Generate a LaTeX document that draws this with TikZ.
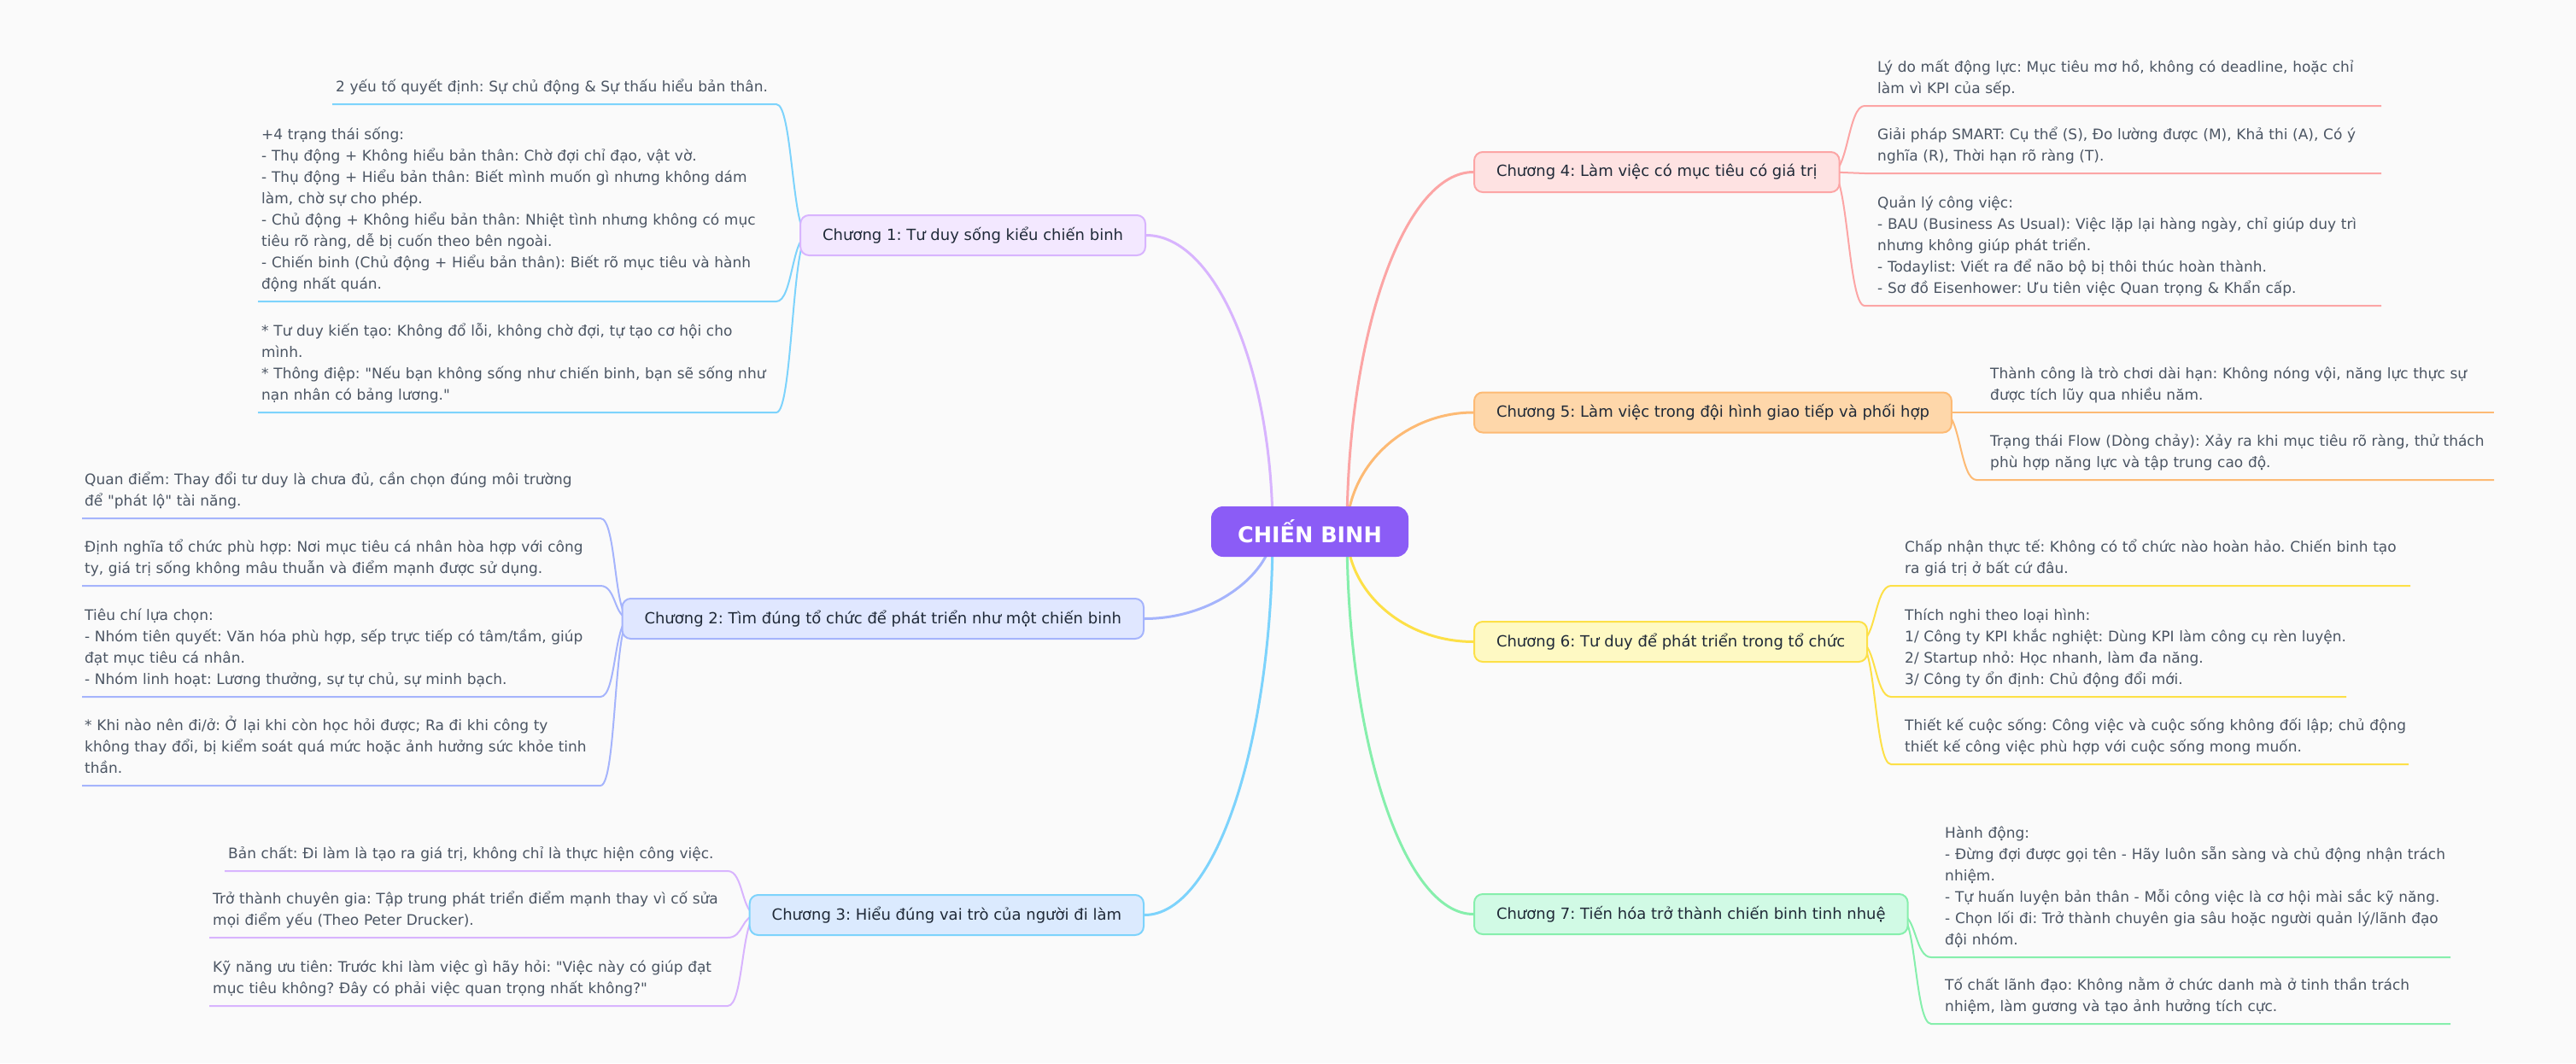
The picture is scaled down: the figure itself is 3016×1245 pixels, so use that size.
\documentclass[tikz,border=0pt]{standalone}
\usepackage{fontspec}
\newfontfamily\dejavu{DejaVu Sans}
\usetikzlibrary{backgrounds}
\frenchspacing
\definecolor{bgcol}{HTML}{FAFAFA}
\definecolor{hubcol}{HTML}{8B5CF6}
\definecolor{leaftext}{HTML}{4B5563}
\definecolor{chtext}{HTML}{1F2937}
\definecolor{purpleline}{HTML}{D8B4FE}
\definecolor{purplefill}{HTML}{F3E8FF}
\definecolor{indigoline}{HTML}{A5B4FC}
\definecolor{indigofill}{HTML}{E0E7FF}
\definecolor{skyline}{HTML}{7DD3FC}
\definecolor{skyfill}{HTML}{DBEAFE}
\definecolor{redline}{HTML}{FCA5A5}
\definecolor{redfill}{HTML}{FEE2E2}
\definecolor{orangeline}{HTML}{FDBA74}
\definecolor{orangefill}{HTML}{FED7AA}
\definecolor{yellowline}{HTML}{FDE047}
\definecolor{yellowfill}{HTML}{FEF9C3}
\definecolor{greenline}{HTML}{86EFAC}
\definecolor{greenfill}{HTML}{D1FAE5}

\begin{document}
\begin{tikzpicture}[x=1pt,y=-1pt,
  hub/.style={fill=hubcol, rounded corners=14pt, minimum width=231pt, minimum height=59pt, text=white, font=\dejavu\bfseries\fontsize{25.5}{30}\selectfont},
  chap/.style={rounded corners=10pt, line width=2pt, minimum height=47pt, inner xsep=26pt, text=chtext, font=\dejavu\fontsize{18}{22}\selectfont},
  leaf/.style={text width=640pt, align=left, inner sep=0pt, anchor=base west, text=leaftext, font=\dejavu\fontsize{17}{25}\selectfont},
  trunk/.style={line width=3pt},
  twig/.style={line width=2pt}]
  \useasboundingbox (0,0) rectangle (3016,1245);

  \node[hub] (hub) at (1533.5,622.5) {CHIẾN BINH};
  \coordinate (hubL) at (1490,622.5);
  \coordinate (hubR) at (1577,622.5);

  \node[chap, draw=purpleline, fill=purplefill, anchor=east] (ch1) at (1342,275.5) {Chương 1: Tư duy sống kiểu chiến binh};
  \node[chap, draw=indigoline, fill=indigofill, anchor=east] (ch2) at (1340,724.5) {Chương 2: Tìm đúng tổ chức để phát triển như một chiến binh};
  \node[chap, draw=skyline, fill=skyfill, anchor=east] (ch3) at (1340,1071.5) {Chương 3: Hiểu đúng vai trò của người đi làm};
  \node[chap, draw=redline, fill=redfill, anchor=west] (ch4) at (1725,201.5) {Chương 4: Làm việc có mục tiêu có giá trị};
  \node[chap, draw=orangeline, fill=orangefill, anchor=west] (ch5) at (1725,483) {Chương 5: Làm việc trong đội hình giao tiếp và phối hợp};
  \node[chap, draw=yellowline, fill=yellowfill, anchor=west] (ch6) at (1725,751.5) {Chương 6: Tư duy để phát triển trong tổ chức};
  \node[chap, draw=greenline, fill=greenfill, anchor=west] (ch7) at (1725,1070.5) {Chương 7: Tiến hóa trở thành chiến binh tinh nhuệ};

  \coordinate (c1) at ([xshift=10pt]ch1.west);
  \coordinate (c2) at ([xshift=10pt]ch2.west);
  \coordinate (c3) at ([xshift=10pt]ch3.west);
  \coordinate (c4) at ([xshift=-10pt]ch4.east);
  \coordinate (c5) at ([xshift=-10pt]ch5.east);
  \coordinate (c6) at ([xshift=-10pt]ch6.east);
  \coordinate (c7) at ([xshift=-10pt]ch7.east);

  \node[leaf] (l1a) at (393,107) {2 yếu tố quyết định: Sự chủ động \& Sự thấu hiểu bản thân.};
  \node[leaf] (l1b) at (306,163) {+4 trạng thái sống:\\
    - Thụ động + Không hiểu bản thân: Chờ đợi chỉ đạo, vật vờ.\\
    - Thụ động + Hiểu bản thân: Biết mình muốn gì nhưng không dám\\
    làm, chờ sự cho phép.\\
    - Chủ động + Không hiểu bản thân: Nhiệt tình nhưng không có mục\\
    tiêu rõ ràng, dễ bị cuốn theo bên ngoài.\\
    - Chiến binh (Chủ động + Hiểu bản thân): Biết rõ mục tiêu và hành\\
    động nhất quán.};
  \node[leaf] (l1c) at (306,393) {* Tư duy kiến tạo: Không đổ lỗi, không chờ đợi, tự tạo cơ hội cho\\
    mình.\\{}* Thông điệp: "Nếu bạn không sống như chiến binh, bạn sẽ sống như\\
    nạn nhân có bảng lương."};

  \node[leaf] (l2a) at (99,567) {Quan điểm: Thay đổi tư duy là chưa đủ, cần chọn đúng môi trường\\
    để "phát lộ" tài năng.};
  \node[leaf] (l2b) at (99,646) {Định nghĩa tổ chức phù hợp: Nơi mục tiêu cá nhân hòa hợp với công\\
    ty, giá trị sống không mâu thuẫn và điểm mạnh được sử dụng.};
  \node[leaf] (l2c) at (99,726) {Tiêu chí lựa chọn:\\
    - Nhóm tiên quyết: Văn hóa phù hợp, sếp trực tiếp có tâm/tầm, giúp\\
    đạt mục tiêu cá nhân.\\
    - Nhóm linh hoạt: Lương thưởng, sự tự chủ, sự minh bạch.};
  \node[leaf] (l2d) at (99,855) {* Khi nào nên đi/ở: Ở lại khi còn học hỏi được; Ra đi khi công ty\\
    không thay đổi, bị kiểm soát quá mức hoặc ảnh hưởng sức khỏe tinh\\
    thần.};

  \node[leaf] (l3a) at (267,1005) {Bản chất: Đi làm là tạo ra giá trị, không chỉ là thực hiện công việc.};
  \node[leaf] (l3b) at (249,1058) {Trở thành chuyên gia: Tập trung phát triển điểm mạnh thay vì cố sửa\\
    mọi điểm yếu (Theo Peter Drucker).};
  \node[leaf] (l3c) at (249,1138) {Kỹ năng ưu tiên: Trước khi làm việc gì hãy hỏi: "Việc này có giúp đạt\\
    mục tiêu không? Đây có phải việc quan trọng nhất không?"};

  \node[leaf] (l4a) at (2198,84) {Lý do mất động lực: Mục tiêu mơ hồ, không có deadline, hoặc chỉ\\
    làm vì KPI của sếp.};
  \node[leaf] (l4b) at (2198,163) {Giải pháp SMART: Cụ thể (S), Đo lường được (M), Khả thi (A), Có ý\\
    nghĩa (R), Thời hạn rõ ràng (T).};
  \node[leaf] (l4c) at (2198,243) {Quản lý công việc:\\
    - BAU (Business As Usual): Việc lặp lại hàng ngày, chỉ giúp duy trì\\
    nhưng không giúp phát triển.\\
    - Todaylist: Viết ra để não bộ bị thôi thúc hoàn thành.\\
    - Sơ đồ Eisenhower: Ưu tiên việc Quan trọng \& Khẩn cấp.};

  \node[leaf] (l5a) at (2330,443) {Thành công là trò chơi dài hạn: Không nóng vội, năng lực thực sự\\
    được tích lũy qua nhiều năm.};
  \node[leaf] (l5b) at (2330,522) {Trạng thái Flow (Dòng chảy): Xảy ra khi mục tiêu rõ ràng, thử thách\\
    phù hợp năng lực và tập trung cao độ.};

  \node[leaf] (l6a) at (2230,646) {Chấp nhận thực tế: Không có tổ chức nào hoàn hảo. Chiến binh tạo\\
    ra giá trị ở bất cứ đâu.};
  \node[leaf] (l6b) at (2230,726) {Thích nghi theo loại hình:\\
    1/ Công ty KPI khắc nghiệt: Dùng KPI làm công cụ rèn luyện.\\
    2/ Startup nhỏ: Học nhanh, làm đa năng.\\
    3/ Công ty ổn định: Chủ động đổi mới.};
  \node[leaf] (l6c) at (2230,855) {Thiết kế cuộc sống: Công việc và cuộc sống không đối lập; chủ động\\
    thiết kế công việc phù hợp với cuộc sống mong muốn.};

  \node[leaf] (l7a) at (2277,981) {Hành động:\\
    - Đừng đợi được gọi tên - Hãy luôn sẵn sàng và chủ động nhận trách\\
    nhiệm.\\
    - Tự huấn luyện bản thân - Mỗi công việc là cơ hội mài sắc kỹ năng.\\
    - Chọn lối đi: Trở thành chuyên gia sâu hoặc người quản lý/lãnh đạo\\
    đội nhóm.};
  \node[leaf] (l7b) at (2277,1159) {Tố chất lãnh đạo: Không nằm ở chức danh mà ở tinh thần trách\\
    nhiệm, làm gương và tạo ảnh hưởng tích cực.};

  \coordinate (e1a) at (909,122);  \coordinate (f1a) at (389,122);
  \coordinate (e1b) at (909,353);  \coordinate (f1b) at (302,353);
  \coordinate (e1c) at (909,483);  \coordinate (f1c) at (302,483);
  \coordinate (e2a) at (703,607);  \coordinate (f2a) at (96,607);
  \coordinate (e2b) at (703,686);  \coordinate (f2b) at (96,686);
  \coordinate (e2c) at (703,816);  \coordinate (f2c) at (96,816);
  \coordinate (e2d) at (703,920);  \coordinate (f2d) at (96,920);
  \coordinate (e3a) at (852,1020); \coordinate (f3a) at (263,1020);
  \coordinate (e3b) at (852,1098); \coordinate (f3b) at (245,1098);
  \coordinate (e3c) at (852,1178); \coordinate (f3c) at (245,1178);
  \coordinate (e4a) at (2183,124); \coordinate (f4a) at (2788,124);
  \coordinate (e4b) at (2183,203); \coordinate (f4b) at (2788,203);
  \coordinate (e4c) at (2183,358); \coordinate (f4c) at (2788,358);
  \coordinate (e5a) at (2314,483); \coordinate (f5a) at (2920,483);
  \coordinate (e5b) at (2314,562); \coordinate (f5b) at (2920,562);
  \coordinate (e6a) at (2214,686); \coordinate (f6a) at (2822,686);
  \coordinate (e6b) at (2214,816); \coordinate (f6b) at (2747,816);
  \coordinate (e6c) at (2214,895); \coordinate (f6c) at (2820,895);
  \coordinate (e7a) at (2261,1121); \coordinate (f7a) at (2869,1121);
  \coordinate (e7b) at (2261,1199); \coordinate (f7b) at (2869,1199);

  \begin{scope}[on background layer]
    \fill[bgcol] (0,0) rectangle (3016,1245);
    \draw[trunk, purpleline] (hubL) .. controls +(0,-190) and +(81,0) .. (ch1.east);
    \draw[trunk, indigoline] (hubL) .. controls +(0,45) and +(85,0) .. (ch2.east);
    \draw[trunk, skyline] (hubL) .. controls +(0,247) and +(83,0) .. (ch3.east);
    \draw[trunk, redline] (hubR) .. controls +(0,-231) and +(-81,0) .. (ch4.west);
    \draw[trunk, orangeline] (hubR) .. controls +(0,-76) and +(-81,0) .. (ch5.west);
    \draw[trunk, yellowline] (hubR) .. controls +(0,71) and +(-81,0) .. (ch6.west);
    \draw[trunk, greenline] (hubR) .. controls +(0,246) and +(-81,0) .. (ch7.west);

    \draw[twig, skyline] (c1) .. controls +(-19,0) and +(19,0) .. (e1a) -- (f1a);
    \draw[twig, skyline] (c1) .. controls +(-19,0) and +(19,0) .. (e1b) -- (f1b);
    \draw[twig, skyline] (c1) .. controls +(-19,0) and +(19,0) .. (e1c) -- (f1c);
    \draw[twig, indigoline] (c2) .. controls +(-19,0) and +(19,0) .. (e2a) -- (f2a);
    \draw[twig, indigoline] (c2) .. controls +(-19,0) and +(19,0) .. (e2b) -- (f2b);
    \draw[twig, indigoline] (c2) .. controls +(-19,0) and +(19,0) .. (e2c) -- (f2c);
    \draw[twig, indigoline] (c2) .. controls +(-19,0) and +(19,0) .. (e2d) -- (f2d);
    \draw[twig, purpleline] (c3) .. controls +(-19,0) and +(19,0) .. (e3a) -- (f3a);
    \draw[twig, purpleline] (c3) .. controls +(-19,0) and +(19,0) .. (e3b) -- (f3b);
    \draw[twig, purpleline] (c3) .. controls +(-19,0) and +(19,0) .. (e3c) -- (f3c);
    \draw[twig, redline] (c4) .. controls +(19,0) and +(-19,0) .. (e4a) -- (f4a);
    \draw[twig, redline] (c4) .. controls +(19,0) and +(-19,0) .. (e4b) -- (f4b);
    \draw[twig, redline] (c4) .. controls +(19,0) and +(-19,0) .. (e4c) -- (f4c);
    \draw[twig, orangeline] (c5) .. controls +(19,0) and +(-19,0) .. (e5a) -- (f5a);
    \draw[twig, orangeline] (c5) .. controls +(19,0) and +(-19,0) .. (e5b) -- (f5b);
    \draw[twig, yellowline] (c6) .. controls +(19,0) and +(-19,0) .. (e6a) -- (f6a);
    \draw[twig, yellowline] (c6) .. controls +(19,0) and +(-19,0) .. (e6b) -- (f6b);
    \draw[twig, yellowline] (c6) .. controls +(19,0) and +(-19,0) .. (e6c) -- (f6c);
    \draw[twig, greenline] (c7) .. controls +(19,0) and +(-19,0) .. (e7a) -- (f7a);
    \draw[twig, greenline] (c7) .. controls +(19,0) and +(-19,0) .. (e7b) -- (f7b);
  \end{scope}
\end{tikzpicture}
\end{document}
